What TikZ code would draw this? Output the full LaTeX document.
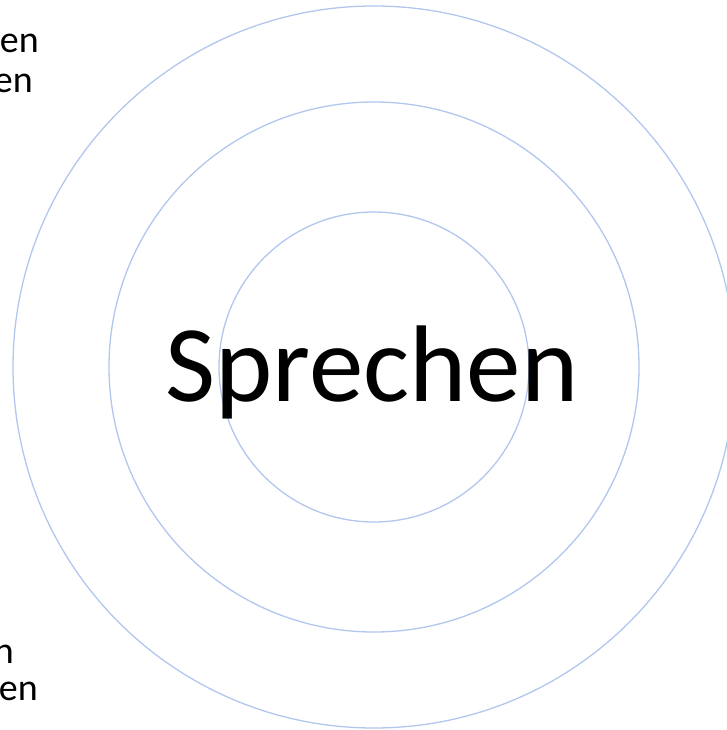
\documentclass[tikz,border=0pt]{standalone}
\usepackage{fontspec}
\setmainfont{Carlito}
\usepackage{xcolor}
\usetikzlibrary{positioning}
\definecolor{ringblue}{RGB}{178,198,238}

\begin{document}
\begin{tikzpicture}[
      x=1pt, y=-1pt,
      ring/.style={draw=ringblue, line width=1.3pt},
      sidetext/.style={inner sep=0pt, font=\fontsize{38}{40}\selectfont, anchor=base east}
      ]
      \useasboundingbox (0,0) rectangle (726,730);

      % rings
      \coordinate (c) at (374,367);
      \draw[ring] (c) circle[radius=361];
      \draw[ring] (c) circle[radius=265];
      \draw[ring] (c) circle[radius=155];

      \node[inner sep=0pt, font=\fontsize{109}{112}\selectfont, anchor=base] (sprechen) at (372,401) {Sprechen};

      % cut-off labels at the left edge
      \node[sidetext] (topa) at (39,53) {en};
      \node[sidetext] (topb) at (33,93) {en};
      \node[sidetext] (bota) at (14,663) {n};
      \node[sidetext] (botb) at (38,700) {en};
\end{tikzpicture}
\end{document}
